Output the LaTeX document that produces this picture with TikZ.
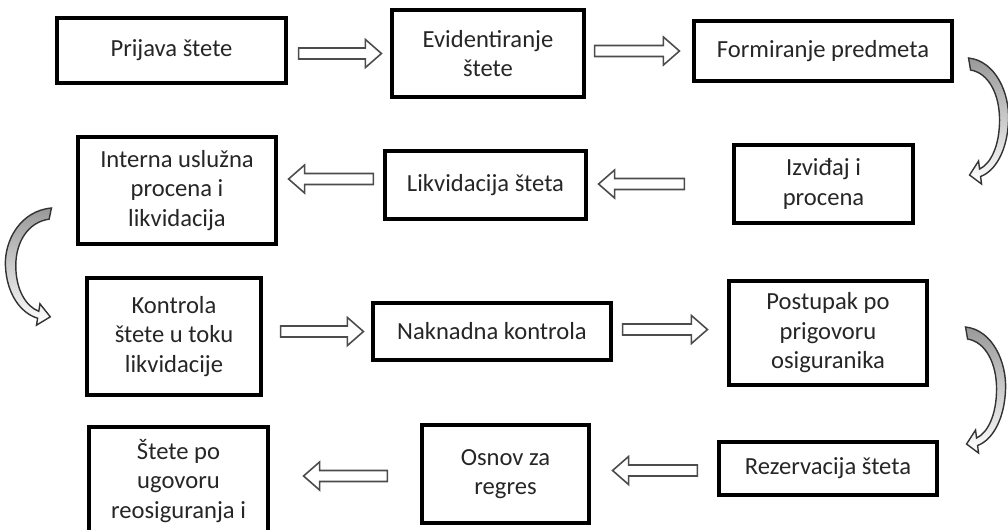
\documentclass[tikz,border=0pt]{standalone}
\usepackage{fontspec}
\setmainfont{Carlito}
\usetikzlibrary{calc}

\tikzset{
  stepbox/.style={draw=black, line width=1.8pt, fill=white, align=center, inner sep=0pt,
    text=black!85, font=\fontsize{14}{16.8}\selectfont},
  blockarrow/.style={draw=black!70, line width=0.9pt, fill=white, line join=miter,
    to path={
      ($(\tikztostart)!0.11cm!90:(\tikztotarget)$)
      -- ($($(\tikztotarget)!0.32cm!(\tikztostart)$)!0.11cm!-90:(\tikztostart)$)
      -- ($($(\tikztotarget)!0.32cm!(\tikztostart)$)!0.28cm!-90:(\tikztostart)$)
      -- (\tikztotarget)
      -- ($($(\tikztotarget)!0.32cm!(\tikztostart)$)!0.28cm!90:(\tikztostart)$)
      -- ($($(\tikztotarget)!0.32cm!(\tikztostart)$)!0.11cm!90:(\tikztostart)$)
      -- ($(\tikztostart)!0.11cm!-90:(\tikztotarget)$)
      -- cycle}},
  bendarrow/.style={draw=black!80, line width=0.8pt, top color=black!40, middle color=black!8, bottom color=white},
  turnarrow/.pic={
    \path[bendarrow] (0,0) .. controls (27,3) and (41,35) .. (40,62)
      .. controls (39,92) and (27,113) .. (12,118.5)
      -- (13,126) -- (1,117) -- (10,103) -- (11,111)
      .. controls (22,106) and (31,88) .. (31,62)
      .. controls (31,36) and (20,15) .. (2,12) -- cycle;
  }
}

\begin{document}
\begin{tikzpicture}[x=0.02cm, y=-0.02cm]
    \useasboundingbox (0,0) rectangle (1008,529);
    \clip (0,0) rectangle (1008,529);
    \fill[white] (0,0) rectangle (1008,529);

    % first row
    \node[stepbox, minimum width=4.58cm, minimum height=1.30cm] (prijava) at (171.5,50.5) {Prijava štete};
    \node[stepbox, minimum width=3.84cm, minimum height=1.74cm] (evidentiranje) at (488,53.5) {Evidentiranje\\štete};
    \node[stepbox, minimum width=5.16cm, minimum height=1.20cm] (formiranje) at (823,51) {Formiranje predmeta};

    % second row
    \node[stepbox, minimum width=3.58cm, minimum height=1.56cm] (izvidjaj) at (823.5,184) {Izviđaj i\\procena};
    \node[stepbox, minimum width=4.02cm, minimum height=1.36cm] (likvidacija) at (485.5,185) {Likvidacija šteta};
    \node[stepbox, minimum width=3.96cm, minimum height=2.14cm] (interna) at (177,190.5) {Interna uslužna\\procena i\\likvidacija};

    % third row
    \node[stepbox, minimum width=3.48cm, minimum height=2.34cm] (kontrola) at (174,336.5) {Kontrola\\štete u toku\\likvidacije};
    \node[stepbox, minimum width=4.76cm, minimum height=1.14cm] (naknadna) at (492,331.5) {Naknadna kontrola};
    \node[stepbox, minimum width=3.96cm, minimum height=2.08cm] (postupak) at (828,333) {Postupak po\\prigovoru\\osiguranika};

    % fourth row
    \node[stepbox, minimum width=4.36cm, minimum height=1.06cm] (rezervacija) at (828,468.5) {Rezervacija šteta};
    \node[stepbox, minimum width=3.34cm, minimum height=1.96cm] (osnov) at (505.5,474) {Osnov za\\regres};
    \node[stepbox, minimum width=3.58cm, minimum height=2.16cm] (stete) at (178.5,481) {Štete po\\ugovoru\\reosiguranja i};

    % straight arrows
    \draw[blockarrow] ($(prijava.east |- evidentiranje.west)+(11,0)$) to ($(evidentiranje.west)+(-9,0)$);
    \draw[blockarrow] ($(evidentiranje.east |- formiranje.west)+(9,0)$) to ($(formiranje.west)+(-13,0)$);
    \draw[blockarrow] ($(izvidjaj.west)+(-48,0)$) to ($(likvidacija.east |- izvidjaj.west)+(11,0)$);
    \draw[blockarrow] ($(likvidacija.west)+(-10,-6)$) to ($(interna.east |- likvidacija.west)+(11,-6)$);
    \draw[blockarrow] ($(kontrola.east |- naknadna.west)+(18,0)$) to ($(naknadna.west)+(-8,0)$);
    \draw[blockarrow] ($(naknadna.east)+(10,-2)$) to ($(postupak.west |- naknadna.east)+(-20,-2)$);
    \draw[blockarrow] ($(rezervacija.west)+(-20,2)$) to ($(osnov.east |- rezervacija.west)+(22,2)$);
    \draw[blockarrow] ($(osnov.west)+(-33,2)$) to ($(stete.east |- osnov.west)+(34,2)$);

    % curved arrows between rows
    \pic at ($(formiranje.east)+(15,7)$) {turnarrow};
    \pic[xscale=-1.15, yscale=0.93] at ($(interna.west)+(-25,17.5)$) {turnarrow};
    \pic at ($(postupak.east)+(37,-6)$) {turnarrow};
\end{tikzpicture}
\end{document}
